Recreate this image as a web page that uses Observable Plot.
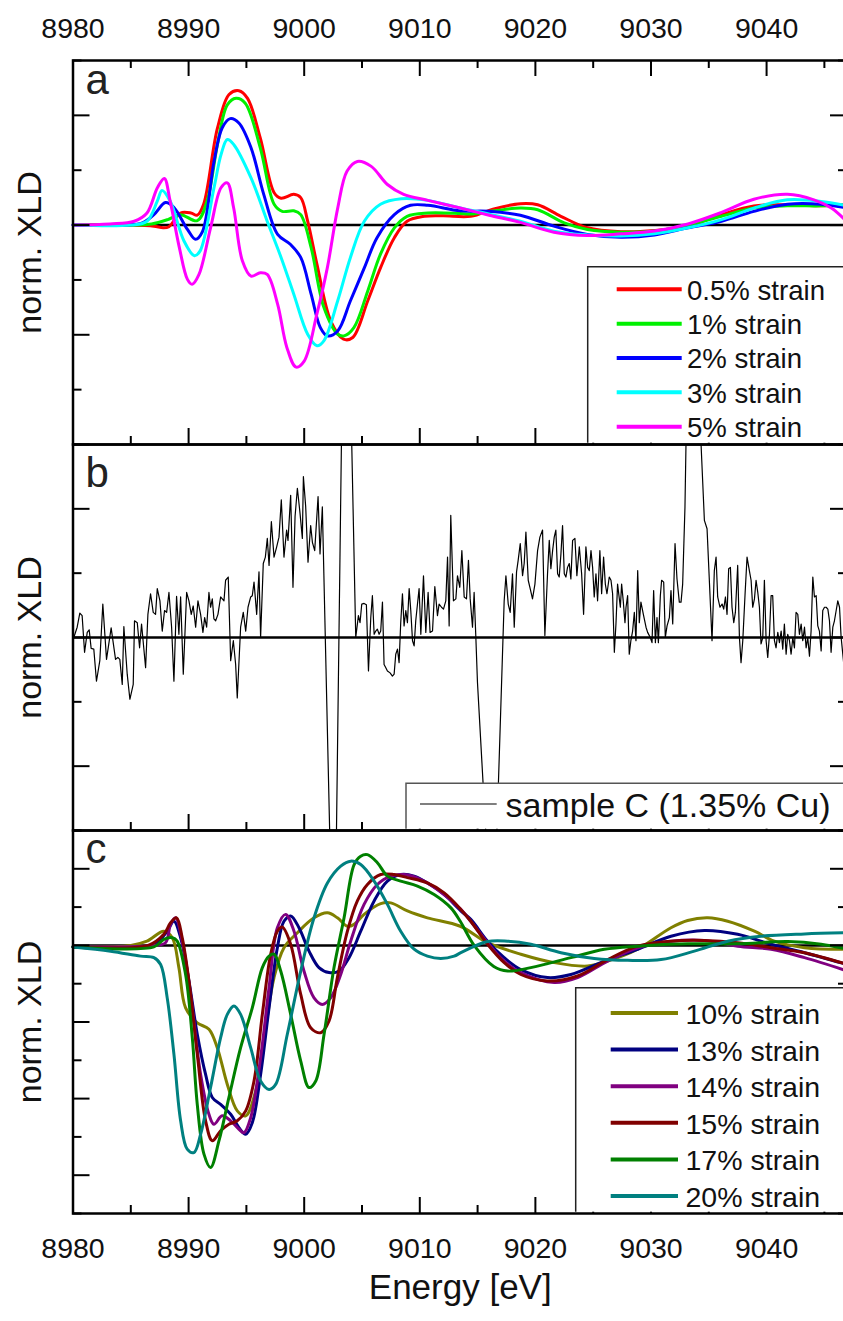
<!DOCTYPE html>
<html><head><meta charset="utf-8">
<script src="https://cdn.jsdelivr.net/npm/d3@7"></script>
<script src="https://cdn.jsdelivr.net/npm/@observablehq/plot@0.6"></script>
<style>
html,body{margin:0;padding:0;background:#fff;overflow:hidden;width:843px;height:1321px;}
#chart{position:relative;width:843px;height:1321px;overflow:hidden;font-family:"Liberation Sans",Arial,sans-serif;}
</style></head><body><div id="chart"></div>
<script>
// ---------- data ----------
const energyTicks = [8980, 8990, 9000, 9010, 9020, 9030, 9040];
const energyMinorTicks = [8985, 8995, 9005, 9015, 9025, 9035, 9045];
const energyDomain = [8980, 9047];

const seriesA = ["0.5% strain", "1% strain", "2% strain", "3% strain", "5% strain"];
const colorsA = ["#ff0000", "#00f000", "#0000ff", "#00ffff", "#ff00ff"];
const seriesC = ["10% strain", "13% strain", "14% strain", "15% strain", "17% strain", "20% strain"];
const colorsC = ["#808000", "#000080", "#800080", "#800000", "#008000", "#008080"];
const labelB = "sample C (1.35% Cu)";

const strain05 = [[8980,0],[8985,0],[8987,-0.02],[8987.8,-0.05],[8988.3,-0.03],[8989.3,0.22],[8990.2,0.22],[8990.75,0.18],[8991.3,0.38],[8992.5,1.77],[8993.5,2.38],[8994.35,2.45],[8995.1,2.31],[8996.2,1.59],[8997.4,0.59],[8998,0.49],[8999.1,0.56],[8999.7,0.5],[9000.3,0.07],[9001.1,-0.71],[9002.3,-1.75],[9003.4,-2.08],[9004.2,-2.05],[9005.5,-1.38],[9006.6,-0.78],[9007.8,-0.23],[9008.9,0.07],[9010.4,0.16],[9012,0.17],[9014.4,0.16],[9016.5,0.3],[9018.7,0.39],[9020.2,0.37],[9022.2,0.16],[9024.5,-0.05],[9027.4,-0.12],[9030.3,-0.1],[9033.2,-0.02],[9036.1,0.19],[9038.9,0.35],[9041.8,0.37],[9044.7,0.35],[9047,0.37]];
const strain1 = [[8980,0],[8985,0],[8986.8,0.02],[8988.2,0.1],[8989.3,0.19],[8990.75,0.08],[8991.6,0.44],[8992.5,1.47],[8993.35,2.19],[8994.1,2.31],[8994.9,2.22],[8996.2,1.41],[8997.4,0.38],[8998.1,0.25],[8999.1,0.26],[8999.7,0.19],[9000.6,-0.41],[9001.7,-1.5],[9002.9,-1.99],[9003.45,-2.02],[9004.3,-1.87],[9005.5,-1.2],[9006.6,-0.53],[9007.8,-0.05],[9008.9,0.16],[9010.7,0.22],[9013.5,0.21],[9014.4,0.2],[9016.5,0.26],[9018.7,0.31],[9020.2,0.28],[9022.5,0.04],[9024.5,-0.08],[9027.4,-0.13],[9030.3,-0.11],[9033.2,0],[9036.1,0.16],[9038.9,0.31],[9041.8,0.35],[9044.7,0.35],[9047,0.37]];
const strain2 = [[8980,0],[8984.5,0],[8986,0.04],[8987,0.19],[8988,0.41],[8988.7,0.33],[8989.9,-0.08],[8990.6,-0.26],[8991.2,-0.12],[8992.2,1.16],[8992.9,1.77],[8993.6,1.94],[8994.35,1.86],[8995.4,1.41],[8996.5,0.56],[8997.7,-0.17],[8998.8,-0.35],[8999.7,-0.59],[9000.6,-1.26],[9001.4,-1.87],[9002,-2.02],[9002.9,-1.93],[9004,-1.38],[9005.2,-0.78],[9006.3,-0.23],[9007.8,0.19],[9009.2,0.36],[9010.7,0.36],[9013.5,0.26],[9016,0.25],[9018.7,0.18],[9021.6,-0.02],[9024.5,-0.17],[9027.4,-0.22],[9030.3,-0.18],[9033.2,-0.05],[9036.1,0.07],[9038.9,0.25],[9041.8,0.38],[9044.7,0.38],[9047,0.31]];
const strain3 = [[8980,0],[8985,0],[8986.4,0.07],[8987.3,0.44],[8987.7,0.63],[8988.4,0.44],[8989.6,-0.29],[8990.5,-0.56],[8991,-0.47],[8992.2,0.68],[8992.8,1.28],[8993.35,1.56],[8993.9,1.47],[8995.4,0.86],[8996.8,0.07],[8998,-0.59],[8999.1,-1.26],[9000.3,-1.99],[9001.1,-2.2],[9001.7,-2.11],[9002.9,-1.38],[9004,-0.59],[9005.2,0.07],[9006.6,0.38],[9008.4,0.48],[9010.7,0.45],[9013.5,0.31],[9016,0.2],[9018.7,0.07],[9021.6,-0.11],[9024.5,-0.18],[9027.4,-0.2],[9030.3,-0.16],[9033.2,-0.05],[9036.1,0.1],[9038.9,0.31],[9041.8,0.46],[9044.7,0.43],[9047,0.35]];
const strain5 = [[8980,0],[8983.2,0.02],[8985.3,0.07],[8986.4,0.22],[8987.3,0.68],[8987.9,0.85],[8988.4,0.44],[8989.2,-0.41],[8989.9,-0.99],[8990.3,-1.08],[8990.9,-0.9],[8991.9,-0.05],[8992.8,0.68],[8993.35,0.77],[8993.9,0.31],[8994.65,-0.65],[8995.4,-0.93],[8996.2,-0.87],[8996.8,-0.9],[8997.7,-1.44],[8998.5,-2.23],[8999.3,-2.59],[9000,-2.48],[9001.1,-1.62],[9002,-0.78],[9002.9,0.31],[9003.7,0.98],[9004.6,1.16],[9005.8,1.07],[9007.2,0.74],[9008.6,0.56],[9010.7,0.45],[9013.5,0.31],[9016,0.18],[9018.7,0.05],[9021.6,-0.13],[9024.5,-0.19],[9027.4,-0.16],[9030.3,-0.11],[9033.2,0.02],[9036.1,0.23],[9038.9,0.47],[9041.8,0.56],[9044.1,0.46],[9045.6,0.31],[9047,0.05]];

const sampleC = [[8980.07,0],[8980.36,0.16],[8980.59,0.38],[8980.79,0.34],[8981.0,-0.23],[8981.23,0.08],[8981.4,0.12],[8981.57,-0.17],[8981.8,-0.18],[8982.03,-0.68],[8982.32,-0.36],[8982.58,0.52],[8982.9,-0.34],[8983.3,0.15],[8983.68,-0.34],[8983.88,-0.31],[8984.05,-0.34],[8984.26,-0.73],[8984.4,0.17],[8984.69,-0.57],[8984.92,-0.96],[8985.21,-0.73],[8985.32,0.26],[8985.56,0.23],[8985.76,-0.16],[8985.93,0.21],[8986.28,-0.47],[8986.48,0.36],[8986.71,0.68],[8986.94,0.39],[8987.14,0.36],[8987.29,0.76],[8987.52,0.57],[8987.72,0.1],[8987.92,0.42],[8988.1,0.39],[8988.3,0.7],[8988.53,0.16],[8988.73,-0.68],[8988.96,0.64],[8989.16,0.05],[8989.31,0.63],[8989.54,-0.57],[8989.83,0.7],[8990.03,0.57],[8990.23,0.36],[8990.4,0.49],[8990.61,0.16],[8990.81,0.57],[8991.04,0.36],[8991.24,0.08],[8991.39,0.31],[8991.56,0.16],[8991.76,0.7],[8991.9,0.47],[8992.05,0.6],[8992.19,0.29],[8992.34,0.26],[8992.54,0.36],[8992.77,0.63],[8993.06,0.57],[8993.2,0.89],[8993.43,0.94],[8993.64,-0.36],[8993.87,-0.05],[8994.07,-0.42],[8994.21,-0.94],[8994.5,0.16],[8994.73,0.39],[8994.94,0.1],[8995.14,0.47],[8995.37,0.63],[8995.51,0.65],[8995.66,0.86],[8995.89,0.36],[8996.09,1.02],[8996.23,0],[8996.46,1.15],[8996.64,1.25],[8996.81,1.54],[8996.96,1.12],[8997.16,1.8],[8997.39,1.25],[8997.62,1.41],[8997.82,1.56],[8998.02,2.14],[8998.25,1.25],[8998.48,1.67],[8998.6,1.51],[8998.83,2.21],[8999.03,0.78],[8999.21,1.88],[8999.41,2.32],[8999.64,1.93],[8999.84,1.54],[8999.93,2.5],[9000.13,2.03],[9000.33,1.17],[9000.56,1.74],[9000.71,1.48],[9000.91,1.35],[9001.2,2.19],[9001.37,1.3],[9001.57,2.03],[9002.58,-6.0],[9003.56,7.8],[9004.46,0],[9004.69,0.34],[9004.83,0.23],[9004.98,0.52],[9005.18,0.53],[9005.38,0.51],[9005.56,-0.52],[9005.76,0.31],[9005.9,0.65],[9006.05,0.05],[9006.19,0.1],[9006.33,0.13],[9006.48,0.05],[9006.62,0.1],[9006.77,0.55],[9006.91,-0.42],[9007.06,-0.47],[9007.2,-0.52],[9007.43,-0.55],[9007.63,-0.6],[9007.78,-0.57],[9007.92,-0.26],[9008.07,-0.18],[9008.21,-0.39],[9008.35,0.23],[9008.5,0.68],[9008.64,0.18],[9008.79,0.42],[9008.93,0.23],[9009.08,0.76],[9009.22,0.42],[9009.37,-0.05],[9009.51,-0.13],[9009.65,0.26],[9009.8,0.52],[9009.94,0.76],[9010.09,0.05],[9010.32,0.96],[9010.52,0.08],[9010.72,0.7],[9010.89,0.08],[9011.1,0.1],[9011.3,0.79],[9011.53,0.34],[9011.67,0.52],[9011.88,0.47],[9012.05,0.44],[9012.25,0.57],[9012.4,1.25],[9012.54,0.18],[9012.68,1.9],[9012.91,0.57],[9013.12,0.6],[9013.26,0.96],[9013.46,0.78],[9013.64,1.35],[9013.84,0.63],[9014.04,0.6],[9014.21,1.2],[9014.36,0.6],[9014.56,0.16],[9014.7,0.7],[9014.85,0],[9014.99,-0.7],[9016.32,-5.0],[9017.3,0.57],[9017.45,0.96],[9017.65,0.52],[9017.82,0.39],[9018.02,0.99],[9018.17,0.16],[9018.37,1.02],[9018.51,1.2],[9018.69,1.46],[9018.89,0.96],[9019.03,1.15],[9019.18,1.64],[9019.38,0.89],[9019.55,0.76],[9019.75,0.6],[9019.96,0.83],[9020.19,1.35],[9020.39,1.56],[9020.62,1.67],[9020.82,0.03],[9021.05,0.99],[9021.2,1.51],[9021.34,1.07],[9021.49,1.35],[9021.63,1.56],[9021.77,1.67],[9021.92,0.99],[9022.06,0.94],[9022.21,1.3],[9022.35,1.74],[9022.5,0.99],[9022.64,0.94],[9022.78,1.09],[9022.93,1.15],[9023.07,0.91],[9023.22,1.51],[9023.42,1.54],[9023.59,0.96],[9023.8,1.41],[9024.0,0.99],[9024.17,0.36],[9024.37,1.41],[9024.52,1.09],[9024.66,1.04],[9024.81,1.35],[9024.95,1.09],[9025.09,0.63],[9025.24,0.99],[9025.38,0.57],[9025.58,1.35],[9025.73,0.68],[9025.9,1.25],[9026.05,0.83],[9026.19,0.68],[9026.39,0.94],[9026.54,0.89],[9026.68,0.68],[9026.83,-0.23],[9026.97,0.21],[9027.11,0.83],[9027.35,0.47],[9027.46,0.83],[9027.6,0.57],[9027.75,0.23],[9027.84,0.47],[9027.98,0.65],[9028.12,-0.26],[9028.26,-0.05],[9028.41,0.1],[9028.56,0.39],[9028.7,-0.05],[9028.85,1.04],[9028.99,0.23],[9029.13,0.55],[9029.34,0.36],[9029.57,0.16],[9029.71,0.08],[9029.94,0],[9030.09,-0.08],[9030.23,0.73],[9030.38,-0.08],[9030.52,0.31],[9030.64,-0.08],[9030.81,0.65],[9030.92,0.89],[9031.1,0.86],[9031.24,0],[9031.39,0.18],[9031.59,0.31],[9031.73,0.73],[9031.88,0.21],[9032.08,1.46],[9032.25,0.91],[9032.45,0.55],[9032.6,0.55],[9032.74,0.83],[9032.94,2.03],[9033.38,6.9],[9034.62,1.82],[9034.85,1.69],[9035.28,-0.05],[9035.48,1.04],[9035.63,1.25],[9035.77,0.63],[9035.97,0.47],[9036.15,0.52],[9036.29,0.44],[9036.44,0.63],[9036.58,0.36],[9036.72,1.07],[9036.87,1.09],[9037.01,0.47],[9037.16,0.23],[9037.3,0.39],[9037.5,1.12],[9037.65,0],[9037.79,-0.39],[9037.94,-0.05],[9038.14,0.68],[9038.31,1.25],[9038.51,1.04],[9038.66,0.89],[9038.8,0.47],[9038.95,0.6],[9039.09,0.89],[9039.24,0.7],[9039.38,0.47],[9039.52,-0.1],[9039.67,0],[9039.81,0.89],[9039.96,-0.05],[9040.1,-0.31],[9040.25,0.05],[9040.39,0.65],[9040.53,0.65],[9040.68,-0.05],[9040.82,-0.16],[9040.97,0.08],[9041.11,-0.08],[9041.26,0.1],[9041.4,-0.18],[9041.54,0.21],[9041.69,-0.26],[9041.83,0.05],[9041.98,-0.05],[9042.12,-0.26],[9042.27,0],[9042.41,-0.16],[9042.55,0.39],[9042.7,0.36],[9042.84,0.05],[9042.99,0.21],[9043.13,-0.05],[9043.28,0.16],[9043.42,-0.16],[9043.56,0],[9043.71,-0.29],[9043.85,0.1],[9044.0,0.94],[9044.14,0.63],[9044.29,0.65],[9044.43,0.18],[9044.57,0.1],[9044.72,-0.21],[9044.86,0.42],[9045.01,0.47],[9045.15,0.47],[9045.3,0.44],[9045.44,0.26],[9045.58,-0.23],[9045.73,0.16],[9045.87,0.26],[9046.02,0.42],[9046.16,0.57],[9046.31,0.47],[9046.45,0],[9046.71,-0.47]];

const strain10 = [[8980,-0.04],[8985,0],[8986.4,0.11],[8987.86,0.37],[8988.59,0.2],[8989.16,-0.58],[8989.74,-1.63],[8990.75,-2.02],[8991.76,-2.19],[8992.48,-2.67],[8993.35,-3.63],[8994.21,-4.32],[8994.94,-4.45],[8995.8,-3.8],[8996.67,-2.15],[8997.39,-0.84],[8998.25,-0.06],[8999.41,0.33],[9000.85,0.72],[9002.01,0.85],[9002.87,0.72],[9003.74,0.5],[9004.32,0.55],[9005.18,0.81],[9006.62,1.09],[9007.49,1.11],[9008.93,0.9],[9010.66,0.72],[9013.5,0.5],[9015.86,0.07],[9018.74,-0.23],[9021.63,-0.45],[9024.52,-0.54],[9026.25,-0.41],[9028.85,-0.1],[9031.73,0.46],[9033.17,0.65],[9034.91,0.72],[9036.64,0.63],[9038.95,0.37],[9040.68,0.11],[9043.28,-0.06],[9047,-0.1]];
const strain13 = [[8980,-0.04],[8987,0],[8987.29,0.07],[8988.15,0.37],[8988.73,0.63],[8989.31,0.2],[8990.03,-0.93],[8990.75,-2.32],[8991.47,-3.37],[8992.05,-3.97],[8992.77,-4.15],[8993.64,-4.41],[8994.36,-4.76],[8994.94,-4.93],[8995.51,-4.63],[8996.23,-3.37],[8996.96,-1.63],[8997.68,-0.06],[8998.25,0.63],[8998.83,0.77],[8999.55,0.46],[9000.42,-0.15],[9001.28,-0.58],[9002.15,-0.71],[9003.02,-0.67],[9003.88,-0.32],[9004.89,0.37],[9006.05,1.16],[9007.2,1.68],[9008.35,1.85],[9009.51,1.81],[9010.66,1.63],[9012.11,1.33],[9013.55,0.9],[9014.41,0.68],[9015.86,0.11],[9017.3,-0.32],[9018.74,-0.63],[9021.05,-0.84],[9023.07,-0.76],[9025.96,-0.41],[9028.85,-0.1],[9031.73,0.24],[9034.62,0.39],[9037.5,0.29],[9040.39,0.03],[9043.28,-0.19],[9047,-0.5]];
const strain14 = [[8980,-0.04],[8987,0],[8988,0.07],[8988.44,0.55],[8988.87,0.72],[8989.45,0.11],[8990.17,-1.28],[8991.04,-3.37],[8991.76,-4.41],[8992.19,-4.67],[8992.9,-4.45],[8993.64,-4.58],[8994.36,-4.8],[8994.79,-4.89],[8995.37,-4.5],[8996.23,-2.93],[8996.96,-1.1],[8997.68,0.46],[8998.39,0.81],[8999.12,0.37],[8999.98,-0.67],[9000.85,-1.37],[9001.57,-1.54],[9002.29,-1.37],[9003.16,-0.76],[9004.02,0.11],[9005.18,1.07],[9006.33,1.59],[9007.49,1.81],[9008.64,1.85],[9010.09,1.72],[9011.53,1.46],[9013.55,0.94],[9014.41,0.63],[9015.86,0.07],[9017.3,-0.41],[9018.74,-0.71],[9021.63,-0.97],[9023.65,-0.84],[9026.25,-0.41],[9028.85,-0.06],[9031.73,0.11],[9034.62,0.13],[9037.5,-0.02],[9040.39,-0.1],[9043.28,-0.32],[9047,-0.67]];
const strain15 = [[8980,-0.04],[8986.5,0],[8987.86,0.29],[8988.44,0.59],[8988.96,0.72],[8989.45,0.2],[8990.03,-0.93],[8990.75,-2.84],[8991.47,-4.58],[8992.05,-5.1],[8992.77,-4.84],[8993.49,-4.67],[8994.21,-4.58],[8994.94,-4.32],[8995.66,-3.54],[8996.38,-1.8],[8997.1,-0.23],[8997.68,0.37],[8998.1,0.48],[8998.83,0.03],[8999.7,-1.28],[9000.56,-2.15],[9001.43,-2.28],[9002.15,-1.97],[9002.87,-0.84],[9003.74,0.37],[9004.6,1.16],[9005.47,1.59],[9006.62,1.85],[9007.78,1.85],[9008.93,1.77],[9010.66,1.63],[9012.11,1.37],[9013.55,0.94],[9014.41,0.63],[9015.86,0.03],[9017.3,-0.45],[9018.74,-0.76],[9021.05,-0.93],[9023.65,-0.8],[9026.25,-0.37],[9028.85,-0.02],[9031.73,0.11],[9034.62,0.13],[9037.5,0.07],[9040.39,-0.06],[9043.28,-0.19],[9047,-0.5]];
const strain17 = [[8980,-0.04],[8987,-0.04],[8987.86,0.16],[8988.59,0.2],[8989.0,0.12],[8989.74,-0.76],[8990.32,-2.41],[8990.75,-4.15],[8991.33,-5.45],[8991.9,-5.8],[8992.63,-5.1],[8993.49,-3.97],[8994.5,-2.67],[8995.51,-1.63],[8996.38,-0.58],[8996.96,-0.28],[8997.39,-0.23],[8997.97,-0.67],[8998.83,-1.8],[8999.7,-3.02],[9000.42,-3.71],[9001,-3.54],[9001.72,-2.32],[9002.58,-0.58],[9003.45,0.72],[9004.32,2.11],[9004.89,2.33],[9005.47,2.37],[9006.33,2.16],[9007.2,1.81],[9008.35,1.68],[9009.8,1.55],[9011.24,1.33],[9012.69,0.98],[9013.5,0.63],[9014.7,0],[9016.4,-0.55],[9017.6,-0.67],[9019.6,-0.58],[9023.07,-0.32],[9025.96,-0.1],[9028.85,-0.02],[9033.17,0.04],[9037.5,0.04],[9041.83,0.1],[9044.72,0.03],[9047,-0.1]];
const strain20 = [[8980,-0.04],[8983.25,-0.15],[8985.84,-0.28],[8987,-0.32],[8987.58,-0.5],[8988.15,-1.37],[8988.73,-2.84],[8989.31,-4.58],[8989.88,-5.32],[8990.46,-5.41],[8991.04,-4.93],[8991.9,-3.71],[8992.77,-2.41],[8993.35,-1.8],[8993.92,-1.58],[8994.5,-1.8],[8995.37,-2.67],[8996.23,-3.54],[8996.96,-3.76],[8997.53,-3.63],[8998.54,-2.32],[8999.7,-0.67],[9000.85,0.72],[9002.01,1.63],[9003.16,2.07],[9004.02,2.2],[9004.89,2.11],[9006.05,1.68],[9007.2,1.07],[9008.35,0.37],[9009.51,-0.1],[9010.66,-0.28],[9011.82,-0.34],[9012.97,-0.28],[9013.55,-0.19],[9015.86,0.1],[9017.59,0.11],[9019.61,0.03],[9022.21,-0.19],[9025.09,-0.34],[9027.98,-0.39],[9030.87,-0.37],[9033.75,-0.15],[9036.64,0.11],[9039.52,0.24],[9043.28,0.3],[9047,0.33]];

const dataA = [strain05, strain1, strain2, strain3, strain5];
const dataC = [strain10, strain13, strain14, strain15, strain17, strain20];

// ---------- layout ----------
const W = 848, H = 1321, ML = 72.5, MR = 1;
const FONT = '"Liberation Sans", Arial, sans-serif';
const chart = document.getElementById("chart");

const tidy = (names, arrays) => names.flatMap((name, i) => arrays[i].map(([E, v]) => ({E, v, series: name})));

function panel({top, bottom, yDomain, majorY, minorY, data, names, colors, lineOpts, letter, letterDy, topAxis, bottomAxis}) {
  const fh = bottom - top, fw = W - MR - ML;
  const marks = [
    Plot.ruleY([0], {stroke: "black", strokeWidth: 2.5}),
    Plot.line(data, {x: "E", y: "v", z: "series", stroke: "series", ...lineOpts}),
    Plot.tickX(energyTicks, {x: d => d, insetTop: fh - 16, stroke: "black", strokeWidth: 2}),
    Plot.tickX(energyMinorTicks, {x: d => d, insetTop: fh - 8, stroke: "black", strokeWidth: 2}),
    Plot.tickY(majorY, {y: d => d, insetRight: fw - 17, stroke: "black", strokeWidth: 2}),
    Plot.tickY(minorY, {y: d => d, insetRight: fw - 9, stroke: "black", strokeWidth: 2}),
    Plot.tickY(majorY, {y: d => d, insetLeft: fw - 17, stroke: "black", strokeWidth: 2}),
    Plot.tickY(minorY, {y: d => d, insetLeft: fw - 9, stroke: "black", strokeWidth: 2}),
    Plot.frame({stroke: "black", strokeWidth: 2.5}),
    Plot.text([letter], {text: d => d, frameAnchor: "top-left", dx: 12.5, dy: letterDy, textAnchor: "start", lineAnchor: "middle", fontSize: 42, fill: "#222"}),
    Plot.text(["norm. XLD"], {text: d => d, frameAnchor: "left", rotate: -90, dx: -42.5, textAnchor: "middle", lineAnchor: "middle", fontSize: 34, fill: "#111"})
  ];
  if (topAxis) {
    marks.push(
      Plot.tickX(energyTicks, {x: d => d, insetBottom: fh - 16, stroke: "black", strokeWidth: 2}),
      Plot.tickX(energyMinorTicks, {x: d => d, insetBottom: fh - 8, stroke: "black", strokeWidth: 2}),
      Plot.text(energyTicks, {x: d => d, text: d => String(d), frameAnchor: "top", dy: -32, textAnchor: "middle", lineAnchor: "middle", fontSize: 28.5, fill: "#111"})
    );
  }
  if (bottomAxis) {
    marks.push(
      Plot.text(energyTicks, {x: d => d, text: d => String(d), frameAnchor: "bottom", dy: 35.5, textAnchor: "middle", lineAnchor: "middle", fontSize: 28.5, fill: "#111"}),
      Plot.text(["Energy [eV]"], {text: d => d, frameAnchor: "bottom", dy: 74, textAnchor: "middle", lineAnchor: "middle", fontSize: 35, fill: "#111"})
    );
  }
  const svg = Plot.plot({
    width: W, height: H,
    marginLeft: ML, marginRight: MR, marginTop: top, marginBottom: H - bottom,
    x: {domain: energyDomain, axis: null},
    y: {domain: yDomain, axis: null},
    color: {domain: names, range: colors},
    marks
  });
  svg.setAttribute("style", `position:absolute;left:0;top:0;background:transparent;max-width:none;overflow:visible;font-family:${FONT}`);
  chart.appendChild(svg);
}

panel({top: 60, bottom: 444, yDomain: [-4, 3], majorY: [-4, -2, 0, 2], minorY: [-3, -1, 1, 3],
  data: tidy(seriesA, dataA), names: seriesA, colors: colorsA,
  lineOpts: {strokeWidth: 3, curve: "catmull-rom"}, letter: "a", letterDy: 19.9, topAxis: true});
panel({top: 444, bottom: 830, yDomain: [-3, 3], majorY: [-2, 0, 2], minorY: [-3, -1, 1, 3],
  data: tidy([labelB], [sampleC]), names: [labelB], colors: ["#000"],
  lineOpts: {strokeWidth: 1.2, clip: true}, letter: "b", letterDy: 29.3});
panel({top: 830, bottom: 1213, yDomain: [-7, 3], majorY: [-6, -4, -2, 0, 2], minorY: [-7, -5, -3, -1, 1, 3],
  data: tidy(seriesC, dataC), names: seriesC, colors: colorsC,
  lineOpts: {strokeWidth: 3, curve: "catmull-rom"}, letter: "c", letterDy: 19.3, bottomAxis: true});

// ---------- legends ----------
const ov = d3.select(chart).append("svg")
  .attr("width", 843).attr("height", H)
  .attr("style", `position:absolute;left:0;top:0;pointer-events:none;font-family:${FONT}`);

function legend({left, top, bottom, names, colors, x1, x2, tx, y0, dy, fontSize, sw, border, base}) {
  const g = ov.append("g");
  g.append("rect").attr("x", left).attr("y", top).attr("width", 900 - left).attr("height", bottom - top).attr("fill", "#fff");
  g.append("path").attr("d", `M${left},${bottom} V${top} H900`).attr("fill", "none").attr("stroke", border).attr("stroke-width", 1.5);
  names.forEach((n, i) => {
    const y = y0 + i * dy;
    g.append("line").attr("x1", x1).attr("x2", x2).attr("y1", y).attr("y2", y).attr("stroke", colors[i]).attr("stroke-width", sw);
    g.append("text").attr("x", tx).attr("y", y + base * fontSize).attr("font-size", fontSize).attr("fill", "#111").text(n);
  });
}
legend({left: 587.7, top: 266.7, bottom: 442.7, names: seriesA, colors: colorsA, x1: 616.7, x2: 681.7, tx: 687, y0: 289.3, dy: 34.35, fontSize: 27.6, sw: 4, border: "#222", base: 0.38});
legend({left: 406, top: 783.3, bottom: 828.7, names: [labelB], colors: ["#000"], x1: 420, x2: 496.7, tx: 505.5, y0: 804, dy: 0, fontSize: 34, sw: 1.2, border: "#555", base: 0.37});
legend({left: 575.7, top: 987.7, bottom: 1211.7, names: seriesC, colors: colorsC, x1: 610.7, x2: 678, tx: 685.5, y0: 1013, dy: 36.6, fontSize: 28.5, sw: 4, border: "#222", base: 0.385});
</script></body></html>
